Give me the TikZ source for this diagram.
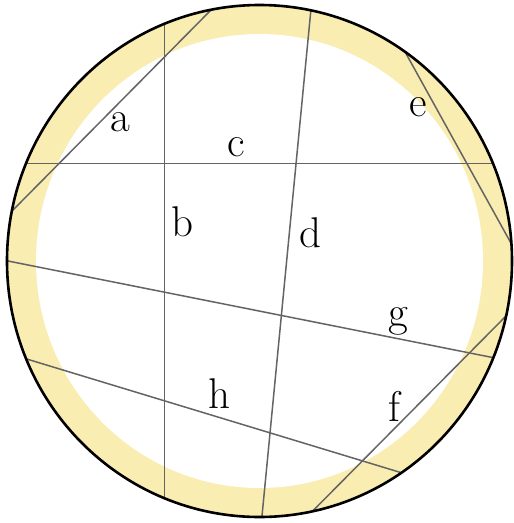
\documentclass[tikz,border=0pt]{standalone}
\usetikzlibrary{calc}
\definecolor{ring}{RGB}{250,237,178}
\definecolor{chordcol}{RGB}{100,100,100}
\tikzset{
  chord/.style={draw=chordcol, line width=1.5pt},
  lbl/.style={inner sep=0pt, font=\fontsize{43}{49}\selectfont},
}
\begin{document}
\begin{tikzpicture}[x=1pt,y=-1pt]
\useasboundingbox (0,0) rectangle (514,523);
\coordinate (O) at (259.5,261);
\fill[ring] (O) ellipse [x radius=252.5, y radius=256];
\fill[white] (O) ellipse [x radius=223.5, y radius=227];
% chord end points
\coordinate (a1) at (15,208);   \coordinate (a2) at (208,13);
\coordinate (b1) at (164.5,27); \coordinate (b2) at (164.5,493);
\coordinate (c1) at (30,163.3); \coordinate (c2) at (494,163.3);
\coordinate (d1) at (310.7,12); \coordinate (d2) at (262,516);
\coordinate (e1) at (405.7,53); \coordinate (e2) at (512,245);
\coordinate (g1) at (8,261);    \coordinate (g2) at (495,358);
\coordinate (f1) at (507,315);  \coordinate (f2) at (315.7,508);
\coordinate (h1) at (30,360);   \coordinate (h2) at (399,472);
\begin{scope}
  \clip (O) ellipse [x radius=252.5, y radius=256];
  \foreach \p in {a,b,c,d,e,g,f,h}{
    \draw[chord] ($(\p1)!-0.3!(\p2)$) -- ($(\p1)!1.3!(\p2)$);
  }
\end{scope}
\draw[line width=2.6pt] (O) ellipse [x radius=252.5, y radius=256];
\node[lbl] (la) at (120.7,121.7) {a};
\node[lbl] (lb) at (182.7,221.7) {b};
\node[lbl] (lc) at (236.7,146.7) {c};
\node[lbl] (ld) at (310.7,233) {d};
\node[lbl] (le) at (418,106.7) {e};
\node[lbl] (lf) at (394,406.7) {f};
\node[lbl] (lg) at (398,321.7) {g};
\node[lbl] (lh) at (219.3,393.3) {h};
\end{tikzpicture}
\end{document}
